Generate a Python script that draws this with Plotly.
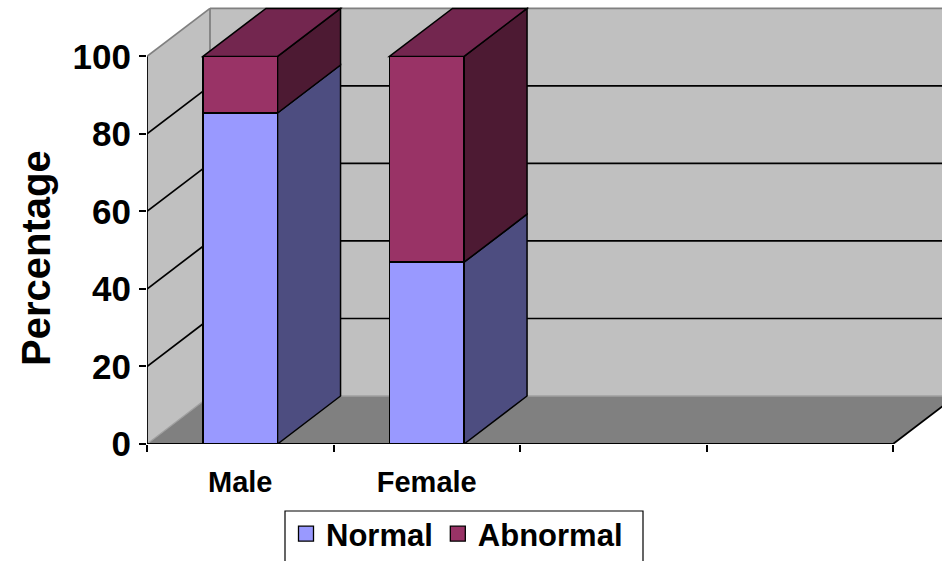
import plotly.graph_objects as go

# ---- data -------------------------------------------------------------
categories = ["Male", "Female"]
normal = [85.4, 46.9]
abnormal = [14.6, 53.1]
y_ticks = [0, 20, 40, 60, 80, 100]
n_slots = 4  # category slots along the floor (two stay empty)

# ---- figure geometry --------------------------------------------------
FIG_W, FIG_H = 942, 561
M_L, M_R, M_T, M_B = 147, 0, 4, 117
PW = FIG_W - M_L - M_R
PH = FIG_H - M_T - M_B

SLOT_PX = 186.5            # pixels per category slot
Y_PX = 3.876               # pixels per percentage point
x_lo = -0.5
x_hi = x_lo + PW / SLOT_PX
y_hi = PH / Y_PX
x_end = x_lo + n_slots     # right end of the floor front edge
y_top = max(y_ticks)

DX = 63 / SLOT_PX          # depth offset of the box, in axis units
DY = 48 / Y_PX
BAR_W = 0.40

FONT = "Arial, Liberation Sans, sans-serif"

C_NORMAL = "#9999FF"
C_NORMAL_SIDE = "#4D4D80"
C_ABN = "#993366"
C_ABN_SIDE = "#4D1A33"
C_ABN_TOP = "#73264F"
C_WALL = "#C0C0C0"
C_FLOOR = "#808080"


def poly(pts, fill=None, line="black", width=1.5, layer="below"):
    path = "M " + " L ".join(f"{x},{y}" for x, y in pts) + " Z"
    shp = dict(type="path", path=path, xref="x", yref="y", layer=layer,
               line=dict(color=line, width=width) if line else dict(width=0))
    if fill:
        shp["fillcolor"] = fill
    return shp


def seg(x0, y0, x1, y1, color="black", width=1.7, layer="below"):
    return dict(type="line", x0=x0, y0=y0, x1=x1, y1=y1, xref="x", yref="y",
                layer=layer, line=dict(color=color, width=width))


shapes = []
# back wall
shapes.append(poly([(x_lo + DX, DY), (x_end + DX, DY), (x_end + DX, y_top + DY),
                    (x_lo + DX, y_top + DY)], fill=C_WALL, line=None))
# left wall
shapes.append(poly([(x_lo, 0), (x_lo + DX, DY), (x_lo + DX, y_top + DY),
                    (x_lo, y_top)], fill=C_WALL, line=None))
# floor
shapes.append(poly([(x_lo, 0), (x_end, 0), (x_end + DX, DY), (x_lo + DX, DY)],
                   fill=C_FLOOR, line=None))
# gridlines on the walls
for v in y_ticks[1:-1]:
    shapes.append(seg(x_lo + DX, v + DY, x_end + DX, v + DY))
    shapes.append(seg(x_lo, v, x_lo + DX, v + DY))
# wall edges
shapes.append(seg(x_lo + DX, y_top + DY, x_end + DX, y_top + DY, color="#808080", width=1.8))
shapes.append(seg(x_lo, y_top, x_lo + DX, y_top + DY, color="#808080", width=1.8))
shapes.append(seg(x_lo + DX, DY, x_lo + DX, y_top + DY, color="#808080", width=1.8))
shapes.append(seg(x_lo, 0, x_lo + DX, DY, color="#A0A0A0", width=1.3))
shapes.append(seg(x_lo + DX, DY, x_end + DX, DY, color="#A0A0A0", width=1.3))

# side and top faces of the columns
for i, (n, a) in enumerate(zip(normal, abnormal)):
    xl = i - BAR_W / 2
    xr = i + BAR_W / 2
    t = n + a
    shapes.append(poly([(xr, 0), (xr + DX, DY), (xr + DX, n + DY), (xr, n)],
                       fill=C_NORMAL_SIDE))
    shapes.append(poly([(xr, n), (xr + DX, n + DY), (xr + DX, t + DY), (xr, t)],
                       fill=C_ABN_SIDE))
    shapes.append(poly([(xl, t), (xl + DX, t + DY), (xr + DX, t + DY), (xr, t)],
                       fill=C_ABN_TOP))

# front axis lines
shapes.append(seg(x_lo, 0, x_end, 0, width=1.8, layer="above"))
shapes.append(seg(x_end, 0, x_end + DX, DY, width=1.8, layer="above"))
shapes.append(seg(x_lo, 0, x_lo, y_top, width=1.8, layer="above"))

# legend frame (runs off the bottom edge)
px2x = lambda px: (px - M_L) / PW
px2y = lambda py: (M_T + PH - py) / PH
shapes.append(dict(type="rect", xref="paper", yref="paper",
                   x0=px2x(285), x1=px2x(643), y0=px2y(575), y1=px2y(511),
                   line=dict(color="black", width=1.2), fillcolor="white",
                   layer="above"))

xs = list(range(len(categories)))
fig = go.Figure()
fig.add_trace(go.Bar(x=xs, y=normal, width=BAR_W, name="Normal",
                     marker=dict(color=C_NORMAL, line=dict(color="black", width=1.5)),
                     showlegend=False, hoverinfo="skip"))
fig.add_trace(go.Bar(x=xs, y=abnormal, width=BAR_W, name="Abnormal",
                     marker=dict(color=C_ABN, line=dict(color="black", width=1.5)),
                     showlegend=False, hoverinfo="skip"))
# legend entries
for name, col in (("Normal", C_NORMAL), ("Abnormal", C_ABN)):
    fig.add_trace(go.Scatter(x=[None], y=[None], mode="markers", name=name,
                             marker=dict(symbol="square", size=15, color=col,
                                         line=dict(color="black", width=1.3))))

fig.update_layout(
    width=FIG_W, height=FIG_H,
    margin=dict(l=M_L, r=M_R, t=M_T, b=M_B, autoexpand=False),
    paper_bgcolor="white", plot_bgcolor="white",
    barmode="stack",
    shapes=shapes,
    font=dict(family=FONT, color="black"),
    showlegend=True,
    legend=dict(orientation="h", x=px2x(286), xanchor="left",
                y=px2y(534), yanchor="middle", traceorder="normal",
                font=dict(size=31, family=FONT, weight="bold"),
                bgcolor="rgba(0,0,0,0)", borderwidth=0,
                itemwidth=30, tracegroupgap=0),
    xaxis=dict(range=[x_lo, x_hi], showgrid=False, zeroline=False, showline=False,
               tickvals=xs, ticktext=categories, ticks="",
               tickfont=dict(size=29, family=FONT, weight="bold"),
               ticklabelstandoff=18,
               minor=dict(tickvals=[x_lo + k for k in range(n_slots + 1)],
                          ticks="outside", ticklen=7, tickcolor="black", tickwidth=1.5,
                          showgrid=False)),
    yaxis=dict(range=[0, y_hi], showgrid=False, zeroline=False, showline=False,
               tickvals=y_ticks, ticks="outside", ticklen=7, tickcolor="black",
               tickwidth=1.5,
               tickfont=dict(size=35, family=FONT, weight="bold"),
               ticklabelstandoff=1),
    annotations=[dict(text="Percentage", textangle=-90, showarrow=False,
                      xref="paper", yref="paper", x=px2x(36), y=px2y(258),
                      xanchor="center", yanchor="middle",
                      font=dict(size=40, family=FONT, weight="bold"))],
)

fig.write_html("out.html")
